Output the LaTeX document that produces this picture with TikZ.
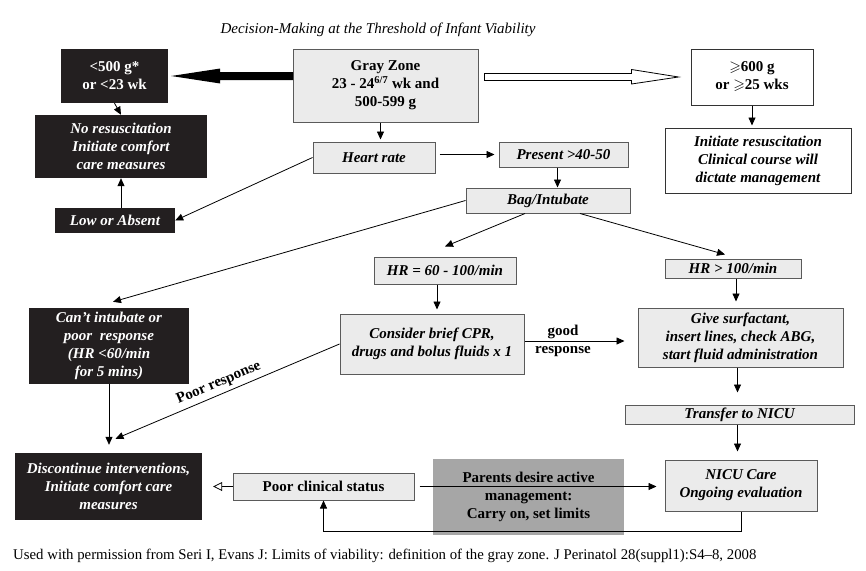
\documentclass[tikz,border=0pt]{standalone}
\usepackage{fontspec}
\usepackage{amssymb}
\setmainfont{Liberation Serif}
\usetikzlibrary{arrows.meta}
\definecolor{boxfill}{HTML}{EBEBEB}
\definecolor{boxline}{HTML}{5A5A5A}
\definecolor{darkfill}{HTML}{231F20}
\definecolor{parentfill}{HTML}{A6A6A6}
\tikzset{
  every node/.style={align=center, inner sep=0pt, font=\fontsize{15}{18}\selectfont},
  lbox/.style={draw=boxline, fill=boxfill, line width=1pt, font=\fontsize{15}{18}\selectfont\bfseries\itshape},
  dbox/.style={fill=darkfill, text=white, font=\fontsize{15}{18}\selectfont\bfseries\itshape},
  wbox/.style={draw=black!80, fill=white, line width=1pt, font=\fontsize{15}{18}\selectfont\bfseries\itshape},
  upright/.style={font=\fontsize{15}{18}\selectfont\bfseries},
  arr/.style={-{Triangle[length=8pt,width=7pt]}, line width=0.8pt},
  sz/.style 2 args={minimum width=#1, minimum height=#2},
}
\begin{document}
\begin{tikzpicture}[x=1pt,y=-1pt]
\useasboundingbox (0,0) rectangle (866,570);
\node[font=\fontsize{15}{18}\selectfont\itshape] (title) at (378,30) {Decision-Making at the Threshold of Infant Viability};
% top row
\node[dbox, sz={107}{54}, upright] (small) at (114.5,76) {<500 g*\\or <23 wk};
\node[lbox, sz={185}{73}, upright] (gray) at (385.5,85.5) {Gray Zone\\23 - 24\textsuperscript{6/7} wk and\\500-599 g};
\node[wbox, sz={122}{56}, upright] (big) at (752,77) {$\geqslant$600 g\\or $\geqslant$25 wks};
\node[dbox, sz={172}{63}] (nores) at (121,146.5) {No resuscitation\\Initiate comfort\\care measures};
\node[wbox, sz={186}{65}] (initres) at (758,160.5) {Initiate resuscitation\\Clinical course will\\dictate management};
\node[dbox, sz={120}{25}] (low) at (115,220.5) {Low or Absent};
\node[lbox, sz={122}{31}] (heart) at (374,157.5) {Heart rate};
\node[lbox, sz={129}{25}] (present) at (563.5,154.5) {Present >40-50};
\node[lbox, sz={164}{25}] (bag) at (548,200.5) {Bag/Intubate};
% middle
\node[lbox, sz={142}{27}] (hrmid) at (445,270.5) {HR = 60 - 100/min};
\node[lbox, sz={136}{19}] (hrhigh) at (733,268.5) {HR > 100/min};
\node[dbox, sz={160}{76}] (cant) at (109,346) {Can’t intubate or\\poor~ response\\(HR <60/min\\for 5 mins)};
\node[lbox, sz={184}{60}] (cpr) at (432,344) {Consider brief CPR,\\drugs and bolus fluids x 1};
\node[lbox, sz={205}{59}] (surf) at (740.5,337.5) {Give surfactant,\\insert lines, check ABG,\\start fluid administration};
\node[lbox, sz={229}{19}] (transfer) at (739.5,414.5) {Transfer to NICU};
% bottom
\node[dbox, sz={187}{67}] (disc) at (108.5,486.5) {Discontinue interventions,\\Initiate comfort care\\measures};
\node[lbox, sz={181}{27}, upright] (poor) at (323.5,486.5) {Poor clinical status};
\node[fill=parentfill, sz={191}{76}, upright] (parents) at (528.5,497) {Parents desire active\\management:\\Carry on, set limits};
\node[lbox, sz={152}{51}] (nicu) at (741,485.5) {NICU Care\\Ongoing evaluation};
\node[anchor=west, font=\fontsize{14.8}{17}\selectfont] (source) at (13,556) {Used with permission from Seri I, Evans J: Limits of viability: definition of the gray zone. J Perinatol 28(suppl1):S4--8, 2008};

% big arrows
\coordinate (bt) at ([xshift=3]small.east);
\fill[black] (bt) -- ++(49,-7.5) -- ++(0,3.5) -- ++(73,0) -- ++(0,8) -- ++(-73,0) -- ++(0,3.5) -- cycle;
\coordinate (wt) at ([xshift=-12]big.west);
\draw[fill=white, line width=0.8pt] (wt) -- ++(-47,-7.5) -- ++(0,4) -- ++(-147,0) -- ++(0,7) -- ++(147,0) -- ++(0,3.5) -- cycle;

% connectors
\draw[arr] (small.south) -- (nores.north);
\draw[arr] (low.north -| nores.south) -- (nores.south);
\draw[arr, shorten >=2pt] (big.south) -- (big.south |- initres.north);
\draw[arr, shorten >=2pt] ([xshift=-5]gray.south) -- ([xshift=-5]gray.south |- heart.north);
\draw[arr, shorten <=4pt, shorten >=4pt] (heart.east |- present.west) -- (present.west);
\draw[arr] ([xshift=-6]present.south) -- ([xshift=-6]present.south |- bag.north);
\draw[arr] (heart.west) -- (low.east);
\draw[arr] (bag.west) -- ([xshift=4,yshift=6]cant.north);
\draw[arr] ([xshift=-23]bag.south) -- ([yshift=10]hrmid.north);
\draw[arr] ([xshift=32]bag.south) -- ([xshift=-8,yshift=4]hrhigh.north);
\draw[arr, shorten >=4pt] ([xshift=-8]hrmid.south) -- ([xshift=-8]hrmid.south |- cpr.north);
\draw[arr, shorten >=13pt] ([yshift=3]cpr.east) -- ([yshift=3]cpr.east -| surf.west);
\node[upright] (good) at (563,341) {good\\response};
\draw[arr, shorten >=6pt] ([xshift=3]hrhigh.south) -- ([xshift=3]hrhigh.south |- surf.north);
\draw[arr, shorten >=12pt] ([xshift=-3]surf.south) -- ([xshift=-3]surf.south |- transfer.north);
\draw[arr, shorten >=8pt] ([xshift=-2]transfer.south) -- ([xshift=-2]transfer.south |- nicu.north);
\draw[arr, shorten >=8pt] (cant.south) -- (cant.south |- disc.north);
\draw[arr] (cpr.west) -- node[sloped, above=4pt, pos=0.52, upright] (poorresp) {Poor response} ([xshift=7,yshift=14]disc.north);
\draw[arr] (nicu.south) -- ++(0,20) -| (poor.south);
\draw[arr, shorten <=5pt, shorten >=8pt] (poor.east) -- (poor.east -| nicu.west);
\draw[line width=0.8pt, -{Triangle[open, length=9pt, width=9pt]}, shorten >=11pt] (poor.west) -- (disc.east);
\end{tikzpicture}
\end{document}
